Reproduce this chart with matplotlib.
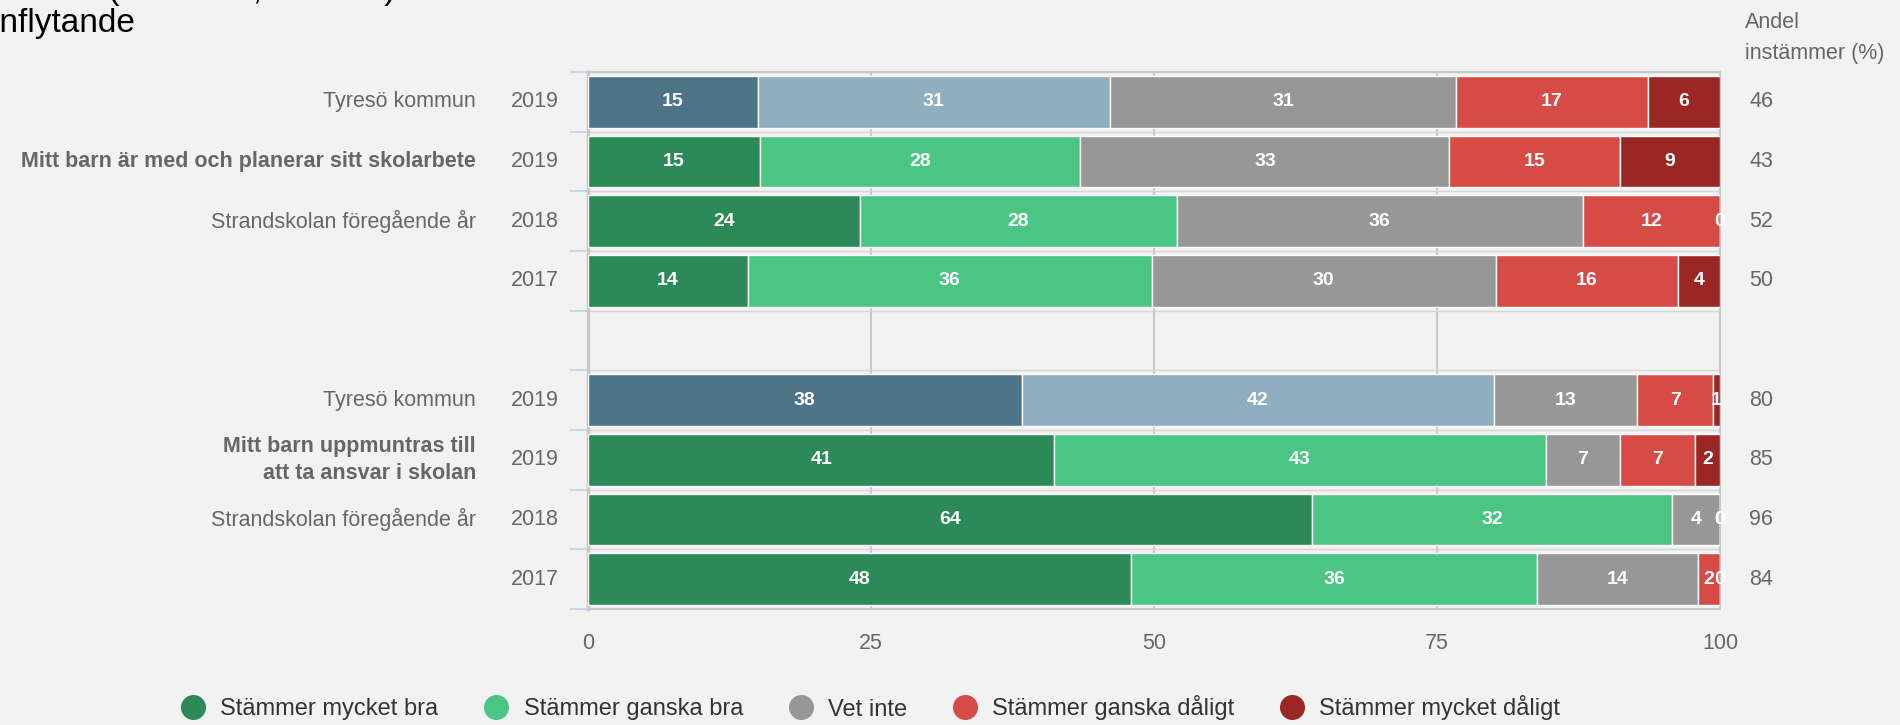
import matplotlib.pyplot as plt
from matplotlib.lines import Line2D
from matplotlib.transforms import blended_transform_factory

plt.rcParams['font.family'] = ['Liberation Sans', 'DejaVu Sans']

# rader uppifrån och ned (rad 5 är tom mellan frågorna)
categories = ["Tyresö kommun", "Mitt barn är med och planerar sitt skolarbete",
              "Strandskolan föregående år", "", "",
              "Tyresö kommun", "Mitt barn uppmuntras till\natt ta ansvar i skolan",
              "Strandskolan föregående år", ""]
years = ["2019", "2019", "2018", "2017", "", "2019", "2019", "2018", "2017"]
bold_rows = [1, 6]
kommun_rows = [0, 5]

series_names = ["Stämmer mycket bra", "Stämmer ganska bra", "Vet inte",
                "Stämmer ganska dåligt", "Stämmer mycket dåligt"]
mycket_bra = [15.0, 15.2, 24.0, 14.1, None, 38.3, 41.2, 64.0, 48.0]
ganska_bra = [31.1, 28.3, 28.0, 35.7, None, 41.7, 43.4, 31.8, 35.8]
vet_inte = [30.6, 32.6, 35.9, 30.4, None, 12.7, 6.6, 4.2, 14.3]
ganska_daligt = [16.9, 15.1, 12.1, 16.1, None, 6.7, 6.6, 0.0, 1.9]
mycket_daligt = [6.4, 8.8, 0.0, 3.7, None, 0.6, 2.2, 0.0, 0.0]
andel = [46, 43, 52, 50, None, 80, 85, 96, 84]

series = [mycket_bra, ganska_bra, vet_inte, ganska_daligt, mycket_daligt]
colors = ["#2b8a57", "#4bc584", "#979797", "#d64b46", "#9a2724"]
kommun_colors = ["#4d7389", "#8faec0"]

bg = "#f2f2f2"
txt = "#666666"
fs = 15.5

fig = plt.figure(figsize=(19, 7.25), dpi=100, facecolor=bg)
ax = fig.add_axes([588 / 1900, 1 - 609 / 725, 1132 / 1900, 537 / 725])
ax.set_facecolor(bg)

rows = [i for i in range(len(years)) if mycket_bra[i] is not None]
lefts = {r: 0.0 for r in rows}
for s, vals in enumerate(series):
    for r in rows:
        c = colors[s]
        if r in kommun_rows and s < 2:
            c = kommun_colors[s]
        w = vals[r]
        ax.barh(r, w, left=lefts[r], height=0.87, color=c, edgecolor='white',
                linewidth=1, zorder=3)
        ax.text(lefts[r] + w / 2, r, f"{round(w)}", ha='center', va='center',
                color='white', fontsize=14, fontweight='bold', zorder=4)
        lefts[r] += w

ax.set_xlim(0, 100)
ax.set_ylim(len(years) - 0.5, -0.5)
ax.set_xticks([0, 25, 50, 75, 100])
ax.set_yticks(range(len(years)))
ax.set_yticklabels(years, va='center')
ax.set_yticks([i - 0.5 for i in range(len(years) + 1)], minor=True)
ax.tick_params(axis='x', length=0, pad=17, labelsize=fs, labelcolor=txt)
ax.tick_params(axis='y', which='major', length=0, pad=21, labelsize=fs, labelcolor=txt)
ax.tick_params(axis='y', which='minor', length=13, width=1.5, color='#ccd6eb')
ax.grid(axis='x', color='#c8c8c8', linewidth=1.5, zorder=0)
ax.grid(axis='y', which='minor', color='#d6d6d6', linewidth=1, zorder=0)
ax.set_axisbelow(True)
for sp in ax.spines.values():
    sp.set_color('#c8c8c8')
    sp.set_linewidth(1.5)
ax.spines['left'].set_linewidth(2.5)

tr = blended_transform_factory(fig.transFigure, ax.transData)
for i, lab in enumerate(categories):
    if lab:
        ax.text(476 / 1900, i, lab, transform=tr, ha='right', va='center',
                color=txt, fontsize=fs, linespacing=1.35,
                fontweight='bold' if i in bold_rows else 'normal')
for i, v in enumerate(andel):
    if v is not None:
        ax.text(1749 / 1900, i, str(v), transform=tr, ha='left', va='center',
                color=txt, fontsize=fs)

fig.text(1745 / 1900, 1 - 22 / 725, "Andel", ha='left', va='center', color=txt, fontsize=fs)
fig.text(1745 / 1900, 1 - 53 / 725, "instämmer (%)", ha='left', va='center', color=txt, fontsize=fs)

# titeln är avklippt i originalet, bara nedre delen syns
fig.text(-5 / 1900, 1 + 1 / 725, "Ansvar (Föräldrar, år 2019)", ha='left',
         va='baseline', color='black', fontsize=24)
fig.text(-7 / 1900, 1 - 32 / 725, "inflytande", ha='left', va='baseline',
         color='black', fontsize=24)

handles = [Line2D([], [], marker='o', linestyle='none', markersize=17,
                  markerfacecolor=c, markeredgecolor=c) for c in colors]
fig.legend(handles, series_names, loc='center', bbox_to_anchor=(868 / 1900, 1 - 708 / 725),
           ncol=5, frameon=False, fontsize=17, handlelength=1.5, handletextpad=0.4,
           columnspacing=1.7, labelcolor='#333333')

fig.savefig("out.png", dpi=100, facecolor=bg)
